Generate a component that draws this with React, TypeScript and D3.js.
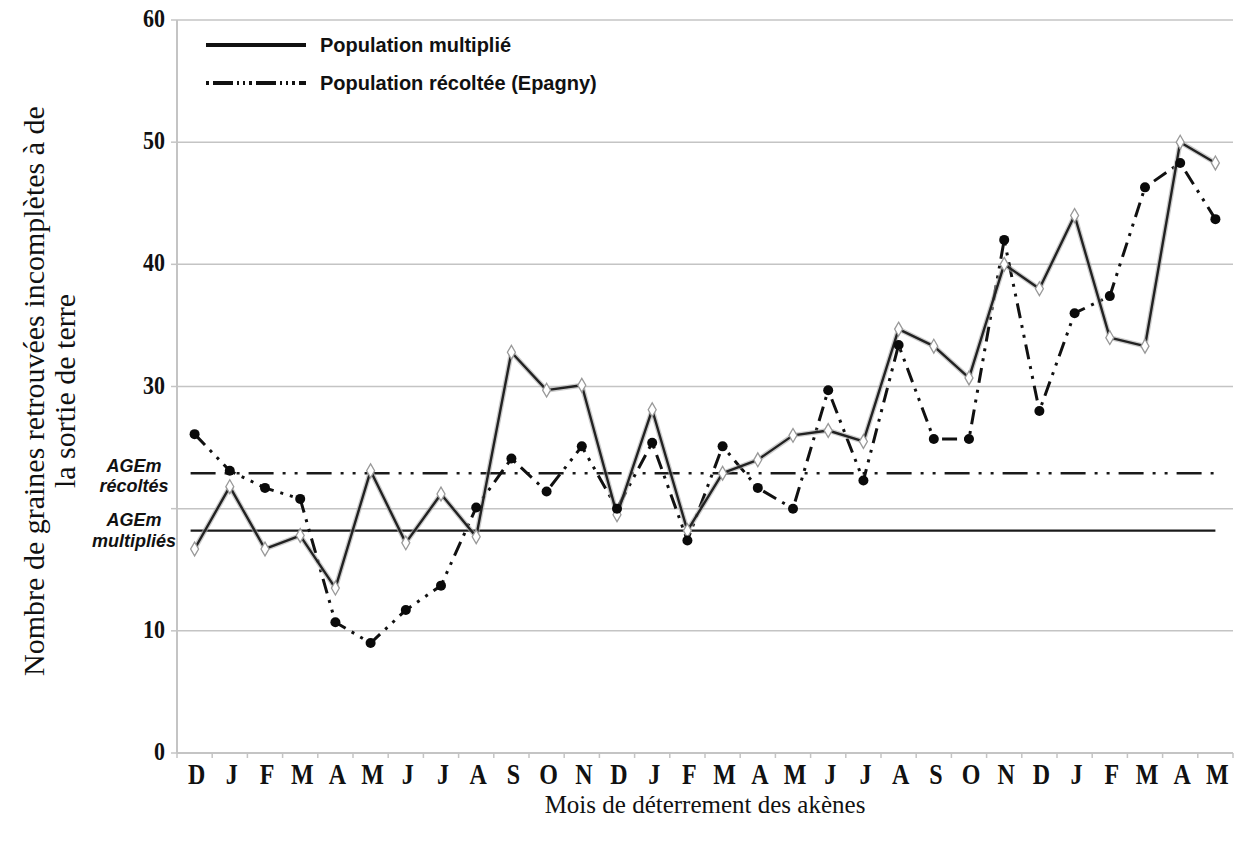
import React from "react";
import * as d3 from "d3";

const months = ["D","J","F","M","A","M","J","J","A","S","O","N","D","J","F","M","A","M","J","J","A","S","O","N","D","J","F","M","A","M"];
const multiplie = [16.7, 21.8, 16.7, 17.8, 13.5, 23.1, 17.2, 21.2, 17.7, 32.8, 29.7, 30.1, 19.5, 28.1, 18.2, 22.9, 24.0, 26.0, 26.4, 25.5, 34.7, 33.3, 30.7, 40.0, 38.0, 44.0, 34.0, 33.3, 50.0, 48.3];
const recoltee = [26.1, 23.1, 21.7, 20.8, 10.7, 9.0, 11.7, 13.7, 20.1, 24.1, 21.4, 25.1, 20.0, 25.4, 17.4, 25.1, 21.7, 20.0, 29.7, 22.3, 33.4, 25.7, 25.7, 42.0, 28.0, 36.0, 37.4, 46.3, 48.3, 43.7];
const agemMultiplies = 18.2;
const agemRecoltes = 22.9;
const yTicks = [0, 10, 20, 30, 40, 50, 60];
const yTickLabels = ["0", "10", "", "30", "40", "50", "60"];
const legendLabels = ["Population multiplié", "Population récoltée (Epagny)"];

const W = 1235, H = 843;
const left = 177, right = 1233, top = 20, bottom = 753;

export default function App() {
  const idx = months.map((_, i) => String(i));
  const x = d3.scaleBand().domain(idx).range([left, right]).padding(0);
  const y = d3.scaleLinear().domain([0, 60]).range([bottom, top]);
  const cx = (i: number) => (x(String(i)) as number) + x.bandwidth() / 2;
  const line = d3.line<number>().x((_, i) => cx(i)).y((d) => y(d));
  const serif = "'Liberation Serif', 'Times New Roman', serif";
  const sans = "'Liberation Sans', Arial, sans-serif";
  const grid = "#c4c4c4";
  const x0 = cx(0), x1 = cx(months.length - 1);
  const dashMain = "25,9,3,9,3,9";
  const dashSeries = "15,7,3,7,3,7";

  return (
    <svg width={W} height={H} style={{ position: "absolute", left: 0, top: 0, background: "#fff" }}>
      {/* gridlines */}
      {yTicks.filter((t) => t > 0).map((t) => (
        <line key={"g" + t} x1={left} x2={right} y1={y(t)} y2={y(t)} stroke={grid} strokeWidth={1.5} />
      ))}
      {/* axes */}
      <line x1={left} x2={left} y1={top} y2={bottom} stroke={grid} strokeWidth={2} />
      <line x1={left} x2={right} y1={bottom} y2={bottom} stroke={grid} strokeWidth={2} />
      {yTicks.map((t) => (
        <line key={"yt" + t} x1={left - 6} x2={left} y1={y(t)} y2={y(t)} stroke={grid} strokeWidth={1.5} />
      ))}
      {months.map((_, i) => (
        <line key={"xt" + i} x1={x(String(i)) as number} x2={x(String(i)) as number} y1={bottom} y2={bottom + 5} stroke={grid} strokeWidth={1.5} />
      ))}
      <line x1={right} x2={right} y1={bottom} y2={bottom + 5} stroke={grid} strokeWidth={1.5} />
      {/* y tick labels */}
      {yTicks.map((t, i) => (
        <g key={"yl" + t} transform={`translate(165,${y(t) + 7}) scale(1,1.15)`}>
          <text x={0} y={0} textAnchor="end" fontFamily={serif} fontWeight="bold" fontSize={22} fill="#111">
            {yTickLabels[i]}
          </text>
        </g>
      ))}
      {/* x tick labels */}
      {months.map((m, i) => (
        <g key={"xl" + i} transform={`translate(${cx(i) + 2},784) scale(1,1.25)`}>
          <text x={0} y={0} textAnchor="middle" fontFamily={serif} fontWeight="bold" fontSize={24} fill="#111">
            {m}
          </text>
        </g>
      ))}
      {/* AGEm reference lines */}
      <line x1={x0 - 4} x2={x1} y1={y(agemMultiplies)} y2={y(agemMultiplies)} stroke="#1a1a1a" strokeWidth={2.4} />
      <line x1={x0 - 4} x2={x1} y1={y(agemRecoltes)} y2={y(agemRecoltes)} stroke="#1a1a1a" strokeWidth={2.6} strokeDasharray={dashMain} />
      {/* recoltee series */}
      <path d={line(recoltee) || ""} fill="none" stroke="#111" strokeWidth={3} strokeDasharray={dashSeries} />
      {/* multiplie series */}
      <path d={line(multiplie) || ""} fill="none" stroke="#aaa" strokeWidth={5} strokeOpacity={0.6} strokeLinejoin="round" />
      <path d={line(multiplie) || ""} fill="none" stroke="#222" strokeWidth={2.4} strokeLinejoin="round" />
      {multiplie.map((v, i) => (
        <path key={"dm" + i} d={d3.symbol(d3.symbolDiamond, 55)() || ""} transform={`translate(${cx(i)},${y(v)})`} fill="#fff" stroke="#999" strokeWidth={1.3} />
      ))}
      {recoltee.map((v, i) => (
        <circle key={"cr" + i} cx={cx(i)} cy={y(v)} r={5} fill="#0a0a0a" />
      ))}
      {/* AGEm labels */}
      <g fontFamily={sans} fontWeight="bold" fontStyle="italic" fontSize={18} fill="#111" textAnchor="middle">
        <text x={134} y={472}>AGEm</text>
        <text x={134} y={492}>récoltés</text>
        <text x={134} y={526}>AGEm</text>
        <text x={134} y={547}>multipliés</text>
      </g>
      {/* legend */}
      <line x1={206} x2={306} y1={45} y2={45} stroke="#111" strokeWidth={4} />
      <line x1={206} x2={306} y1={83} y2={83} stroke="#111" strokeWidth={4} strokeDasharray="3,4,20,4,2,4,2,4" />
      <text x={320} y={52} fontFamily={sans} fontWeight="bold" fontSize={20} fill="#111">{legendLabels[0]}</text>
      <text x={320} y={90} fontFamily={sans} fontWeight="bold" fontSize={20} fill="#111">{legendLabels[1]}</text>
      {/* axis titles */}
      <text x={705} y={813} textAnchor="middle" fontFamily={serif} fontSize={25} fill="#111">Mois de déterrement des akènes</text>
      <g transform="translate(33,391) rotate(-90)">
        <text x={0} y={0} dy="0.35em" textAnchor="middle" fontFamily={serif} fontSize={30} fill="#111">Nombre de graines retrouvées incomplètes à de</text>
      </g>
      <g transform="translate(64,391) rotate(-90)">
        <text x={0} y={0} dy="0.35em" textAnchor="middle" fontFamily={serif} fontSize={30} fill="#111">la sortie de terre</text>
      </g>
    </svg>
  );
}
